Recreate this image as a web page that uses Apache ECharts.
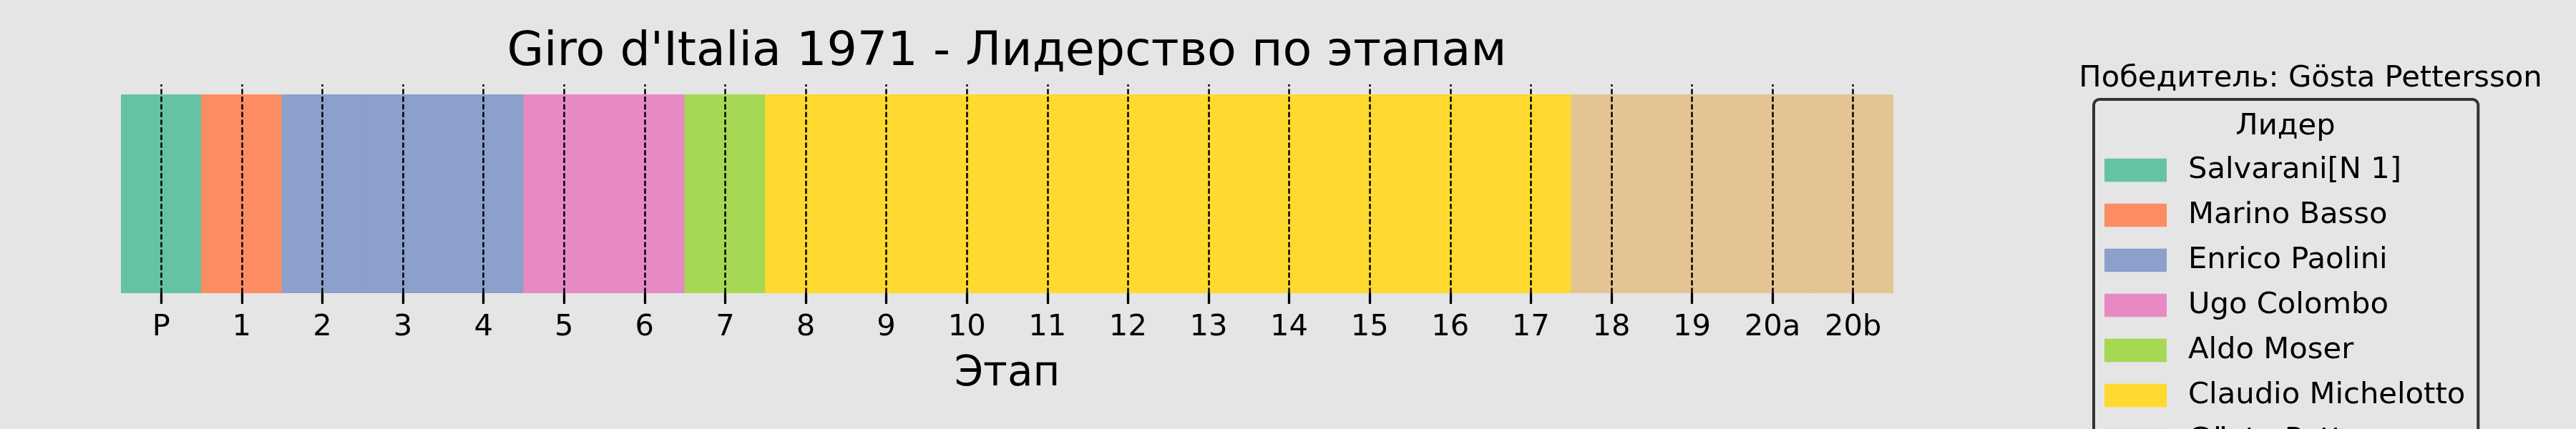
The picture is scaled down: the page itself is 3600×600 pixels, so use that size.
<!DOCTYPE html>
<html>
<head>
<meta charset="utf-8">
<script src="https://cdn.jsdelivr.net/npm/echarts@6/dist/echarts.min.js"></script>
<style>
html,body{margin:0;padding:0;background:#e5e5e5;}
#chart{width:3600px;height:600px;}
</style>
</head>
<body>
<div id="chart"></div>
<script>
// ---- data ----
const stages = ['P','1','2','3','4','5','6','7','8','9','10','11','12','13','14','15','16','17','18','19','20a','20b'];
const leaders = ['Salvarani[N 1]','Marino Basso','Enrico Paolini','Ugo Colombo','Aldo Moser','Claudio Michelotto','Gösta Pettersson'];
// leader (index into leaders) holding the lead after each stage
const stageLeader = [0,1,2,2,2,3,3,4,5,5,5,5,5,5,5,5,5,5,6,6,6,6];
const colors = ['#66c2a5','#fc8d62','#8da0cb','#e78ac3','#a6d854','#ffd92f','#e5c494'];
const titleText = "Giro d'Italia 1971 - Лидерство по этапам";
const winnerText = 'Победитель: Gösta Pettersson';
const legendTitle = 'Лидер';
const xName = 'Этап';

const FONT = 'DejaVu Sans';
const chart = echarts.init(document.getElementById('chart'), null, {renderer:'canvas'});

const series = leaders.map((name, li) => ({
  type: 'bar',
  name: name,
  data: stageLeader.map(l => l === li ? 1 : '-'),
  barWidth: '101%',
  barGap: '-100%',
  itemStyle: {color: colors[li]},
  silent: true,
  animation: false
}));
series.push({
  type: 'line',
  name: '_stages',
  data: [],
  z: 10,
  silent: true,
  animation: false,
  markLine: {
    silent: true,
    animation: false,
    symbol: ['none','none'],
    label: {show: false},
    lineStyle: {color: '#000', width: 2.5, type: [7.4, 3.3], opacity: 1},
    emphasis: {disabled: true},
    data: stages.map(s => ({xAxis: s}))
  }
});

const option = {
  backgroundColor: '#e5e5e5',
  animation: false,
  textStyle: {fontFamily: FONT},
  grid: {left: 169, right: 954, top: 118, bottom: 190},
  xAxis: {
    type: 'category',
    data: stages,
    name: xName,
    nameLocation: 'middle',
    nameGap: 85,
    nameTextStyle: {fontSize: 58, color: '#000', fontFamily: FONT, lineHeight: 58},
    axisLine: {show: false},
    axisTick: {show: true, alignWithLabel: true, length: 15, lineStyle: {color: '#000', width: 3.3}},
    axisLabel: {interval: 0, fontSize: 41.7, lineHeight: 42, margin: 27, color: '#000', fontFamily: FONT},
    splitLine: {show: false}
  },
  yAxis: {type: 'value', min: 0, max: 1.05, show: false},
  legend: {
    orient: 'vertical',
    left: 2926,
    top: 139,
    height: 900,
    padding: [78, 18, 20, 15],
    itemWidth: 87,
    itemHeight: 32.7,
    itemGap: 21,
    icon: 'rect',
    selectedMode: false,
    data: leaders,
    borderColor: '#333333',
    borderWidth: 4,
    borderRadius: 8,
    backgroundColor: 'transparent',
    textStyle: {fontSize: 41.7, lineHeight: 41.7, color: '#000', fontFamily: FONT, padding: [0,0,0,25]}
  },
  graphic: [
    {type: 'text', x: 1407, y: 74, silent: true,
     style: {text: titleText, fill: '#000', font: '66.7px "DejaVu Sans"', align: 'center', verticalAlign: 'middle'}},
    {type: 'text', x: 3229, y: 110.5, silent: true,
     style: {text: winnerText, fill: '#000', font: '41.7px "DejaVu Sans"', align: 'center', verticalAlign: 'middle'}},
    {type: 'text', x: 3194, y: 177.5, silent: true,
     style: {text: legendTitle, fill: '#000', font: '41.7px "DejaVu Sans"', align: 'center', verticalAlign: 'middle'}}
  ],
  series: series
};
chart.setOption(option);
</script>
</body>
</html>
